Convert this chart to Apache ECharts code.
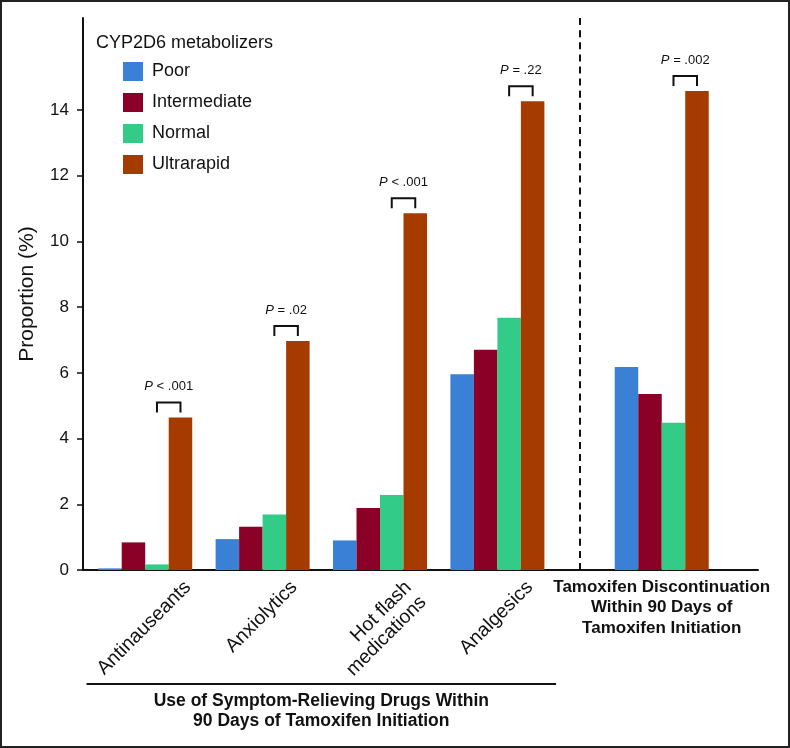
<!DOCTYPE html>
<html><head><meta charset="utf-8">
<script src="https://cdn.jsdelivr.net/npm/echarts@6/dist/echarts.min.js"></script>
<style>html,body{margin:0;padding:0;background:#fff}#c{width:790px;height:748px}</style>
</head><body><div id="c"></div>
<script>
// ---- data ----
const categories = ['Antinauseants', 'Anxiolytics', 'Hot flash\nmedications', 'Analgesics',
  'Tamoxifen Discontinuation\nWithin 90 Days of\nTamoxifen Initiation'];
const groupPos = [1, 2, 3, 4, 5.4];
const seriesNames = ['Poor', 'Intermediate', 'Normal', 'Ultrarapid'];
const poor = [0.05, 0.94, 0.90, 5.96, 6.18];
const intermediate = [0.84, 1.32, 1.89, 6.70, 5.36];
const normal = [0.17, 1.69, 2.28, 7.68, 4.48];
const ultrarapid = [4.64, 6.97, 10.86, 14.27, 14.58];
const pValues = ['< .001', '= .02', '< .001', '= .22', '= .002'];
const yTicks = [0, 2, 4, 6, 8, 10, 12, 14];
const groupTitle = 'Use of Symptom-Relieving Drugs Within\n90 Days of Tamoxifen Initiation';
const legendTitle = 'CYP2D6 metabolizers';
const yName = 'Proportion (%)';

// ---- styles ----
const FONT = '"Liberation Sans", Arial, Helvetica, sans-serif';
const colors = ['#3A80D6', '#8A0027', '#32CC88', '#A63B00'];
const INK = '#111';
const BAR_W = 23.5;
const values = [poor, intermediate, normal, ultrarapid];

const chart = echarts.init(document.getElementById('c'), null, {renderer: 'canvas'});

const bars = seriesNames.map((n, i) => ({
  name: n, type: 'bar', barWidth: BAR_W, barGap: '0%',
  data: groupPos.map((p, j) => [p, values[i][j]]),
  itemStyle: {color: colors[i]},
  z: 2
}));

const pSeries = {
  type: 'custom', silent: true, z: 5, clip: false,
  data: groupPos.map((p, j) => [p, ultrarapid[j]]),
  encode: {x: 0, y: 1},
  markLine: {
    silent: true, symbol: 'none', label: {show: false},
    lineStyle: {type: [7, 5.11], color: INK, width: 2},
    data: [{xAxis: (groupPos[3] + groupPos[4]) / 2}]
  },
  renderItem: function (params, api) {
    const c = api.coord([api.value(0), api.value(1)]);
    const x1 = c[0] + BAR_W / 2, x2 = c[0] + BAR_W * 1.5, yt = c[1];
    return {
      type: 'group', children: [
        {type: 'polyline', shape: {points: [[x1, yt - 5], [x1, yt - 15], [x2, yt - 15], [x2, yt - 5]]},
          style: {stroke: INK, lineWidth: 2, fill: null}},
        {type: 'text', x: (x1 + x2) / 2, y: yt - 31,
          style: {text: '{i|P} ' + pValues[params.dataIndex], fontFamily: FONT, fontSize: 13, fill: INK,
            align: 'center', verticalAlign: 'middle', textAlign: 'center', textVerticalAlign: 'middle',
            rich: {i: {fontStyle: 'italic', fontFamily: FONT, fontSize: 13, fill: INK}}}}
      ]
    };
  }
};

chart.setOption({
  animation: false,
  color: colors,
  grid: {left: 83, right: 32, top: 18, bottom: 178},
  title: {text: legendTitle, left: 96, top: 34, padding: 0,
    textStyle: {fontFamily: FONT, fontSize: 18, fontWeight: 'normal', color: INK}},
  legend: {data: seriesNames, orient: 'vertical', left: 118, top: 57, itemWidth: 20, itemHeight: 19,
    itemGap: 12, icon: 'rect', selectedMode: false,
    textStyle: {fontFamily: FONT, fontSize: 18, color: INK, padding: [0, 0, 0, 4]}},
  xAxis: {type: 'value', min: 0.47, max: 6.22,
    axisLine: {show: true, onZero: false, lineStyle: {color: INK, width: 2}},
    axisTick: {show: false}, axisLabel: {show: false}, splitLine: {show: false}},
  yAxis: {type: 'value', min: 0, max: 16.8, interval: 2,
    name: yName, nameLocation: 'middle', nameGap: 45,
    nameTextStyle: {fontFamily: FONT, fontSize: 21, color: INK},
    axisLine: {show: true, lineStyle: {color: INK, width: 2}},
    axisTick: {show: true, length: 6, customValues: yTicks, lineStyle: {color: INK, width: 1.5}},
    axisLabel: {customValues: yTicks, margin: 14, fontFamily: FONT, fontSize: 17, color: INK},
    splitLine: {show: false}},
  series: bars.concat([pSeries])
});

// ---- x labels (positioned from axis scale) ----
const px = v => chart.convertToPixel({xAxisIndex: 0}, v);
const y0 = chart.convertToPixel({yAxisIndex: 0}, 0);
const ctx = document.createElement('canvas').getContext('2d');
const LBL_FS = 19.5, LBL_LH = 21;
ctx.font = LBL_FS + 'px "Liberation Sans"';
const g = [];
g.push({type: 'rect', shape: {x: 1, y: 1, width: 788, height: 746},
  style: {fill: null, stroke: '#222', lineWidth: 2}, silent: true});
for (let j = 0; j < 4; j++) {
  const lines = categories[j].split('\n');
  const W = Math.max.apply(null, lines.map(s => ctx.measureText(s).width));
  const H = lines.length * LBL_LH;
  const cx = px(groupPos[j]);
  g.push({type: 'text', x: cx + 0.3536 * (W - H) - 1, y: y0 + 7, rotation: Math.PI / 4,
    style: {text: categories[j], fontFamily: FONT, fontSize: LBL_FS, fill: INK, lineHeight: LBL_LH,
      align: 'right', verticalAlign: 'top', textAlign: 'right', textVerticalAlign: 'top'}});
}
g.push({type: 'text', x: px(groupPos[4]), y: y0 + 37.7,
  style: {text: categories[4], fontFamily: FONT, fontSize: 17, fontWeight: 'bold', fill: INK, lineHeight: 20.8,
    align: 'center', verticalAlign: 'middle', textAlign: 'center', textVerticalAlign: 'middle'}});
const lx1 = px(groupPos[0] - 0.5), lx2 = px(groupPos[3] + 0.5);
g.push({type: 'line', shape: {x1: lx1, y1: y0 + 114, x2: lx2, y2: y0 + 114},
  style: {stroke: INK, lineWidth: 2}});
g.push({type: 'text', x: (lx1 + lx2) / 2, y: y0 + 141.3,
  style: {text: groupTitle, fontFamily: FONT, fontSize: 17.5, fontWeight: 'bold', fill: INK, lineHeight: 20.7,
    align: 'center', verticalAlign: 'middle', textAlign: 'center', textVerticalAlign: 'middle'}});
chart.setOption({graphic: g});
</script></body></html>
